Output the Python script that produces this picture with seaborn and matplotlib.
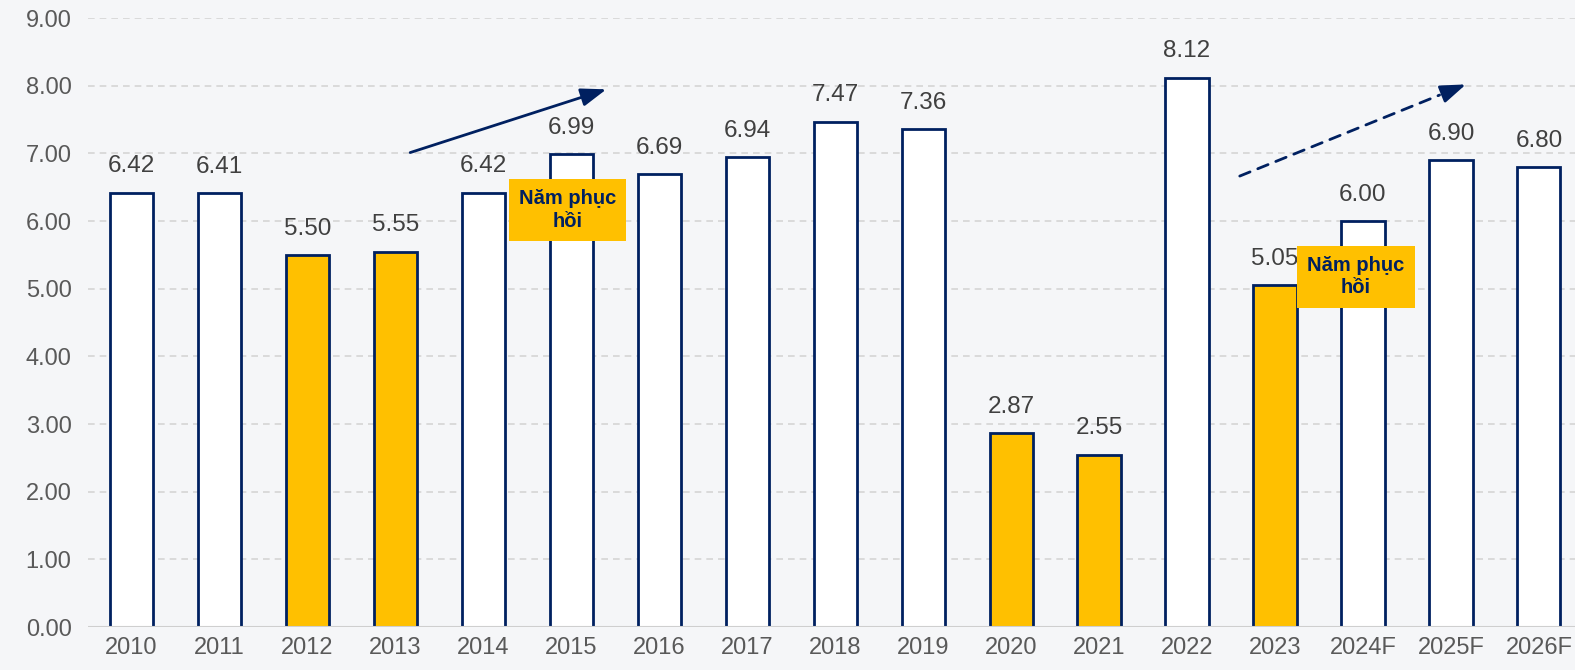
import matplotlib
matplotlib.use("Agg")
import matplotlib.pyplot as plt
import seaborn as sns

years = ['2010', '2011', '2012', '2013', '2014', '2015', '2016', '2017', '2018',
         '2019', '2020', '2021', '2022', '2023', '2024F', '2025F', '2026F']
growth = [6.42, 6.41, 5.50, 5.55, 6.42, 6.99, 6.69, 6.94, 7.47,
          7.36, 2.87, 2.55, 8.12, 5.05, 6.00, 6.90, 6.80]
slow_years = ['2012', '2013', '2020', '2021', '2023']

GOLD = '#FFC000'
NAVY = '#002060'
BG = '#F5F6F8'

sns.set_theme(style='white')
plt.rcParams['font.family'] = ['Liberation Sans', 'DejaVu Sans']

fig = plt.figure(figsize=(15.75, 6.7), dpi=100, facecolor=BG)
ax = fig.add_axes([0.056, 0.064, 0.944, 0.909])
ax.set_facecolor(BG)

palette = [GOLD if y in slow_years else 'white' for y in years]
sns.barplot(x=years, y=growth, hue=years, palette=palette, legend=False,
            saturation=1, width=0.49, edgecolor=NAVY, linewidth=2, ax=ax, zorder=3)

for i, v in enumerate(growth):
    ax.annotate(f'{v:.2f}', (i, v), xytext=(0, 11), textcoords='offset points',
                ha='center', va='bottom', fontsize=17.5, color='#404040')

ax.set_ylim(0, 9)
ax.set_xlim(-0.49, 16.41)
ax.set_yticks(range(0, 10))
ax.set_yticklabels([f'{t:.2f}' for t in range(0, 10)])
ax.yaxis.grid(True, linestyle=(0, (4, 3)), color='#D5D5D5', linewidth=1.2, zorder=0)
ax.axhline(0, color='#CFCFCF', linewidth=1.5, zorder=4)
ax.tick_params(axis='x', labelsize=17, labelcolor='#595959', length=0, pad=7)
ax.tick_params(axis='y', labelsize=17, labelcolor='#595959', length=0, pad=12)
for s in ax.spines.values():
    s.set_visible(False)
ax.set_xlabel('')
ax.set_ylabel('')

# trend arrows
head = '-|>,head_length=0.7,head_width=0.25'
ax.annotate('', xy=(5.43, 7.96), xytext=(3.14, 7.0),
            arrowprops=dict(arrowstyle=head, color=NAVY, lw=2, mutation_scale=22),
            zorder=6)
# dashed shaft, then a short solid segment carrying the head
ax.annotate('', xy=(14.9, 7.878), xytext=(12.57, 6.65),
            arrowprops=dict(arrowstyle='-', color=NAVY, lw=2, linestyle=(0, (4, 3))),
            zorder=6)
ax.annotate('', xy=(15.17, 8.02), xytext=(14.9, 7.878),
            arrowprops=dict(arrowstyle=head, color=NAVY, lw=2, mutation_scale=22,
                            shrinkA=0, shrinkB=0),
            zorder=6)

# recovery labels
box = dict(boxstyle='square,pad=0.5', facecolor=GOLD, edgecolor='none')
ax.text(4.96, 6.16, 'Năm phục\nhồi', ha='center', va='center', fontsize=14.5,
        fontweight='bold', color=NAVY, bbox=box, zorder=7, linespacing=1.25)
ax.text(13.92, 5.18, 'Năm phục\nhồi', ha='center', va='center', fontsize=14.5,
        fontweight='bold', color=NAVY, bbox=box, zorder=7, linespacing=1.25)

fig.savefig('out.png', dpi=100, facecolor=BG)
